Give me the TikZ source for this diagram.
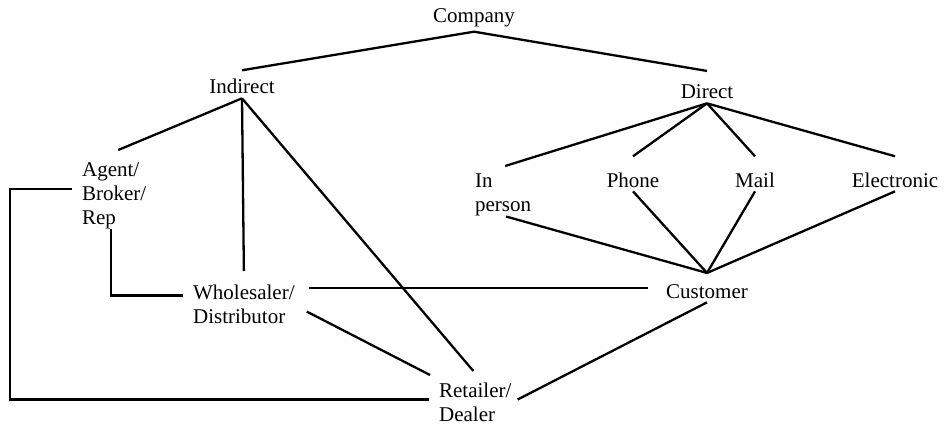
\documentclass[tikz,border=0pt]{standalone}
\usepackage{fontspec}
\setmainfont{Liberation Serif}
\usepackage{tikz}
\usetikzlibrary{calc}

\begin{document}
\begin{tikzpicture}[x=1pt, y=-1pt, line width=2.3pt,
    every node/.style={inner sep=3pt, font=\fontsize{21}{24}\selectfont},
    stack/.style={anchor=north west, align=left}]
    \useasboundingbox (0,0) rectangle (947,425);
    % top levels
    \node[anchor=base] (company) at (474,23) {Company};
    \node[anchor=base] (indirect) at (242,94) {Indirect};
    \node[anchor=base] (direct) at (707,99) {Direct};
    % direct channels
    \node[stack] (inperson) at (471,170) {In\\person};
    \node[anchor=base] (phone) at (633,187) {Phone};
    \node[anchor=base] (mail) at (755,187) {Mail};
    \node[anchor=base] (electronic) at (895,187) {Electronic};
    \node[anchor=base] (customer) at (707,298) {Customer};
    % indirect channels
    \node[stack] (agent) at (78,158) {Agent/\\Broker/\\Rep};
    \node[stack] (wholesaler) at (189,281) {Wholesaler/\\Distributor};
    \node[stack] (retailer) at (435,379) {Retailer/\\Dealer};
    % company -> indirect / direct
    \draw (company.south) -- ([shift={(0,-5)}]indirect.north);
    \draw (company.south) -- ([shift={(0,-10)}]direct.north);
    % indirect branches
    \draw (indirect.south) -- ([shift={(4,-8)}]agent.north);
    \draw (indirect.south) -- ([shift={(0,-10)}]wholesaler.north);
    \draw (indirect.south) -- ([shift={(-2,-8)}]retailer.north);
    % direct branches
    \draw (direct.south) -- ([shift={(2,-4)}]inperson.north);
    \foreach \n in {phone,mail,electronic}
        \draw (direct.south) -- ([shift={(0,-12)}]\n.north);
    % all direct channels reach the customer
    \draw ([shift={(3,-4)}]inperson.south) -- ([shift={(0,-7)}]customer.north);
    \foreach \n in {phone,mail,electronic}
        \draw (\n.south) -- ([shift={(0,-7)}]customer.north);
    % cross links
    \coordinate (ws-e) at ([shift={(10,7)}]wholesaler.north east);
    \coordinate (cu-w) at ([shift={(-14,0)}]customer.west);
    \draw (ws-e) -- (ws-e -| cu-w);
    \draw ([shift={(8,7)}]wholesaler.east) -- ([shift={(-5,-4)}]retailer.north west);
    \draw (customer.south) -- ([shift={(2,-3)}]retailer.east);
    \draw ([shift={(-3,-4)}]agent.south) |- ([shift={(-6,-9)}]wholesaler.west);
    \draw ([shift={(-6,-6)}]agent.west) -- ++(-62,0) |- ([shift={(-6,-3)}]retailer.west);
\end{tikzpicture}
\end{document}
